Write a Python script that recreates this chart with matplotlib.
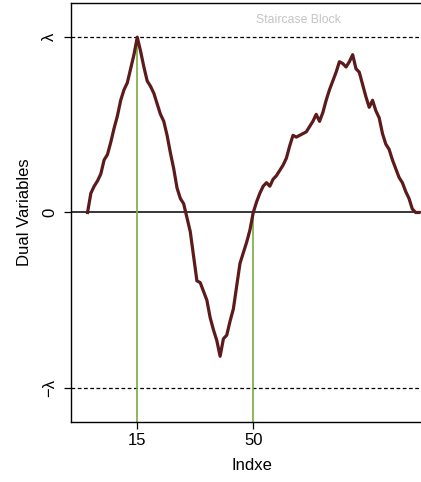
""" I plot the dual variables of a staircase block against the index.
"""


import matplotlib
matplotlib.use('Agg')
import matplotlib.pyplot as plt


LAMBDA = 1.0
INDEX = list(range(101))
DUAL = [
    0.00, 0.11, 0.15, 0.18, 0.22, 0.30, 0.33, 0.40, 0.48, 0.55,
    0.64, 0.70, 0.74, 0.82, 0.90, 1.00, 0.92, 0.83, 0.75, 0.72,
    0.68, 0.62, 0.56, 0.52, 0.44, 0.34, 0.25, 0.14, 0.08, 0.05,
    -0.03, -0.11, -0.25, -0.39, -0.40, -0.45, -0.50, -0.60, -0.67, -0.73,
    -0.82, -0.72, -0.70, -0.62, -0.55, -0.42, -0.29, -0.23, -0.17, -0.10,
    0.00, 0.06, 0.11, 0.15, 0.17, 0.15, 0.19, 0.21, 0.24, 0.27,
    0.31, 0.38, 0.44, 0.43, 0.44, 0.45, 0.46, 0.49, 0.52, 0.56,
    0.52, 0.57, 0.64, 0.70, 0.75, 0.80, 0.86, 0.85, 0.83, 0.86,
    0.90, 0.82, 0.80, 0.73, 0.66, 0.60, 0.64, 0.58, 0.54, 0.45,
    0.39, 0.36, 0.30, 0.25, 0.20, 0.17, 0.12, 0.08, 0.02, 0.00,
    0.00,
]
CHANGE_POINTS = [15, 50]
X_TICKS = [15, 50]
Y_TICKS = [-LAMBDA, 0, LAMBDA]
Y_TICK_LABELS = ['\u2212\u03bb', '0', '\u03bb']


def create_graph(filename: str):
    """ I create the graph

    Args:
        filename: the file to write the graph.
    """
    plt.rcParams['font.family'] = ['Liberation Sans', 'DejaVu Sans']
    fig = plt.figure(figsize=(4.21, 4.82), dpi=100)
    ax = fig.add_axes([0.1686, 0.1245, 0.858, 0.8693])

    ax.set_xlim(-5, 104)
    ax.set_ylim(-1.195 * LAMBDA, 1.195 * LAMBDA)

    # bounds and the zero line
    ax.axhline(LAMBDA, color='black', linestyle=(0, (3, 2)), linewidth=0.9)
    ax.axhline(-LAMBDA, color='black', linestyle=(0, (3, 2)), linewidth=0.9)
    ax.axhline(0, color='black', linewidth=1.1)

    # change points drawn up to the curve
    bottom = ax.get_ylim()[0]
    for point in CHANGE_POINTS:
        ax.vlines(point, bottom, DUAL[INDEX.index(point)],
                  color='#7aaa3e', linewidth=1.2)

    ax.plot(INDEX, DUAL, color='#5c1a1a', linewidth=2.3,
            solid_joinstyle='round')

    ax.text(0.63, 0.96, 'Staircase Block', transform=ax.transAxes,
            color='#c4c4c4', fontsize=8.8, ha='center', va='center')

    ax.set_xticks(X_TICKS)
    ax.set_xticklabels([str(t) for t in X_TICKS], fontsize=12)
    ax.set_yticks(Y_TICKS)
    ax.set_yticklabels(Y_TICK_LABELS, fontsize=12, rotation=90,
                       va='center')
    ax.tick_params(direction='out', length=5, width=0.9)
    ax.tick_params(axis='x', pad=3)
    ax.tick_params(axis='y', pad=5)

    ax.set_xlabel('Indxe', fontsize=12, labelpad=7)
    ax.set_ylabel('Dual Variables', fontsize=12, labelpad=7)

    for spine in ax.spines.values():
        spine.set_linewidth(1.0)

    fig.savefig(filename, dpi=100)


def main():
    """ main method
    """
    create_graph('out.png')


if __name__ == '__main__':
    main()
